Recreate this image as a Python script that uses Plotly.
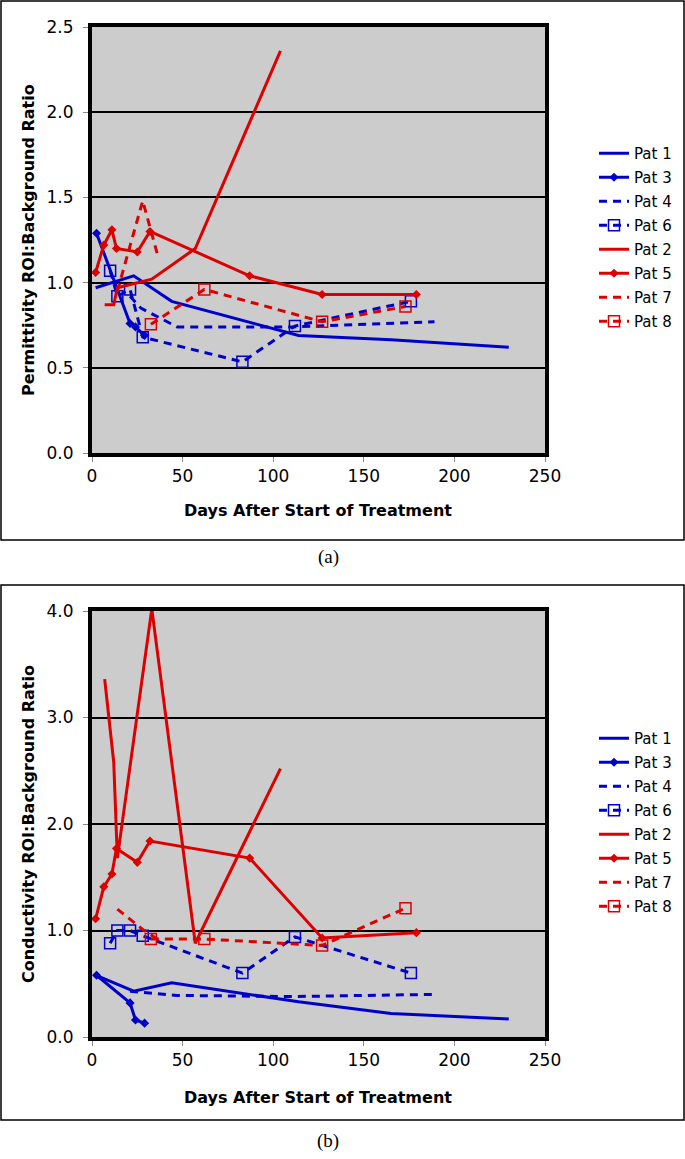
import plotly.graph_objects as go

W, H = 685, 1159

# ---------------- data ----------------
pat1_days = [2, 23, 44, 114, 165, 230]
pat1_perm = [0.97, 1.04, 0.89, 0.69, 0.665, 0.62]
pat1_cond = [0.58, 0.43, 0.51, 0.33, 0.22, 0.17]

pat3_days = [2.5, 21, 24, 29]
pat3_perm = [1.29, 0.76, 0.74, 0.69]
pat3_cond = [0.58, 0.32, 0.16, 0.13]

pat4_days = [21, 27, 47, 111, 189]
pat4_perm = [0.92, 0.85, 0.74, 0.74, 0.77]
pat4_cond = [0.43, 0.42, 0.39, 0.38, 0.40]

pat6_days = [10, 14, 21, 28, 83, 112, 176]
pat6_perm = [1.07, 0.92, 0.96, 0.68, 0.535, 0.745, 0.89]
pat6_cond = [0.88, 1.00, 1.00, 0.95, 0.60, 0.94, 0.60]

pat2_days = [7, 12, 14, 33, 57, 104]
pat2_perm = [0.87, 0.87, 0.97, 1.02, 1.20, 2.36]
pat2_cond = [3.36, 2.58, 1.68, 4.02, 0.88, 2.52]

pat5_days = [2, 6.5, 11, 13.5, 25, 32, 87, 127, 179]
pat5_perm = [1.06, 1.22, 1.31, 1.20, 1.18, 1.30, 1.04, 0.93, 0.93]
pat5_cond = [1.11, 1.41, 1.53, 1.77, 1.64, 1.84, 1.68, 0.93, 0.98]

pat7_days = [14, 28, 36]
pat7_perm = [0.95, 1.48, 1.17]
pat7_cond = [1.20, 1.01, 0.92]

pat8_days = [32.5, 62, 127, 173]
pat8_perm = [0.755, 0.96, 0.77, 0.86]
pat8_cond = [0.92, 0.92, 0.86, 1.21]

x_ticks = [0, 50, 100, 150, 200, 250]

BLUE = "#0000CC"
RED = "#DD0000"
DASH = "8px,6px"

series = [
    ("Pat 1", pat1_days, pat1_perm, pat1_cond, BLUE, "solid", None),
    ("Pat 3", pat3_days, pat3_perm, pat3_cond, BLUE, "solid", "diamond"),
    ("Pat 4", pat4_days, pat4_perm, pat4_cond, BLUE, DASH, None),
    ("Pat 6", pat6_days, pat6_perm, pat6_cond, BLUE, DASH, "square-open"),
    ("Pat 2", pat2_days, pat2_perm, pat2_cond, RED, "solid", None),
    ("Pat 5", pat5_days, pat5_perm, pat5_cond, RED, "solid", "diamond"),
    ("Pat 7", pat7_days, pat7_perm, pat7_cond, RED, DASH, None),
    ("Pat 8", pat8_days, pat8_perm, pat8_cond, RED, DASH, "square-open"),
]


def fx(px):
    return px / W


def fy(py):
    return 1 - py / H


fig = go.Figure()
for name, d, p, c, col, dash, sym in series:
    for yv, xa, ya, lg in [(p, "x", "y", "legend"), (c, "x2", "y2", "legend2")]:
        mode = "lines+markers" if sym else "lines"
        marker = None
        if sym == "diamond":
            marker = dict(symbol="diamond", size=7, color=col)
        elif sym == "square-open":
            marker = dict(symbol="square-open", size=11, color=col,
                          line=dict(width=1.5, color=col))
        fig.add_trace(go.Scatter(
            x=d, y=yv, name=name, mode=mode, xaxis=xa, yaxis=ya, legend=lg,
            legendgroup=name + lg,
            line=dict(color=col, width=3, dash=dash), marker=marker,
        ))

tickfont = dict(family="DejaVu Sans", size=17, color="black")
common_x = dict(range=[0, 250], tickvals=x_ticks, showgrid=False, zeroline=False,
                showline=True, mirror=True, linewidth=4, linecolor="black",
                ticks="outside", ticklen=5, tickcolor="#888", tickfont=tickfont,
                ticklabelstandoff=0, automargin=False)
common_y = dict(showgrid=True, gridcolor="black", gridwidth=2, zeroline=False,
                showline=True, mirror=True, linewidth=4, linecolor="black",
                ticks="outside", ticklen=5, tickcolor="#888", tickfont=tickfont,
                tickformat=".1f", ticklabelstandoff=6, automargin=False)

legend_common = dict(xanchor="left", yanchor="top", xref="container", yref="container",
                     font=dict(family="DejaVu Sans", size=15, color="black"),
                     bgcolor="rgba(0,0,0,0)", tracegroupgap=1.5)

fig.update_layout(
    width=W, height=H, margin=dict(l=0, r=0, t=0, b=0, autoexpand=False),
    paper_bgcolor="white", plot_bgcolor="#CCCCCC",
    xaxis=dict(domain=[fx(92), fx(545)], anchor="y", **common_x),
    yaxis=dict(domain=[fy(453), fy(27)], anchor="x", range=[0, 2.5], dtick=0.5, **common_y),
    xaxis2=dict(domain=[fx(92), fx(545)], anchor="y2", **common_x),
    yaxis2=dict(domain=[fy(1037), fy(611)], anchor="x2", range=[0, 4.0], dtick=1.0, **common_y),
    legend=dict(x=fx(594), y=fy(137), **legend_common),
    legend2=dict(x=fx(594), y=fy(722), **legend_common),
    showlegend=True,
)

# outer frames
for y0, y1 in [(1, 540), (585, 1120)]:
    fig.add_shape(type="rect", xref="paper", yref="paper",
                  x0=fx(1), x1=fx(684), y0=fy(y1), y1=fy(y0),
                  line=dict(color="black", width=1.5), fillcolor="rgba(0,0,0,0)")

ann = [
    dict(text="<b>Days After Start of Treatment</b>", x=fx(318), y=fy(510)),
    dict(text="<b>Days After Start of Treatment</b>", x=fx(318), y=fy(1097)),
    dict(text="<b>Permittivity ROI:Background Ratio</b>", x=fx(28), y=fy(240), textangle=-90),
    dict(text="<b>Conductivity ROI:Background Ratio</b>", x=fx(28), y=fy(824), textangle=-90),
]
for a in ann:
    fig.add_annotation(xref="paper", yref="paper", showarrow=False,
                       xanchor="center", yanchor="middle",
                       font=dict(family="DejaVu Sans", size=16, color="black"), **a)

for t, py in [("(a)", 557), ("(b)", 1141)]:
    fig.add_annotation(text=t, xref="paper", yref="paper", x=fx(328), y=fy(py),
                       showarrow=False, xanchor="center", yanchor="middle",
                       font=dict(family="Liberation Serif", size=19, color="black"))

fig.write_html(
    "out.html",
    config={"displayModeBar": False},
    post_script="document.body.style.margin='0';",
)
